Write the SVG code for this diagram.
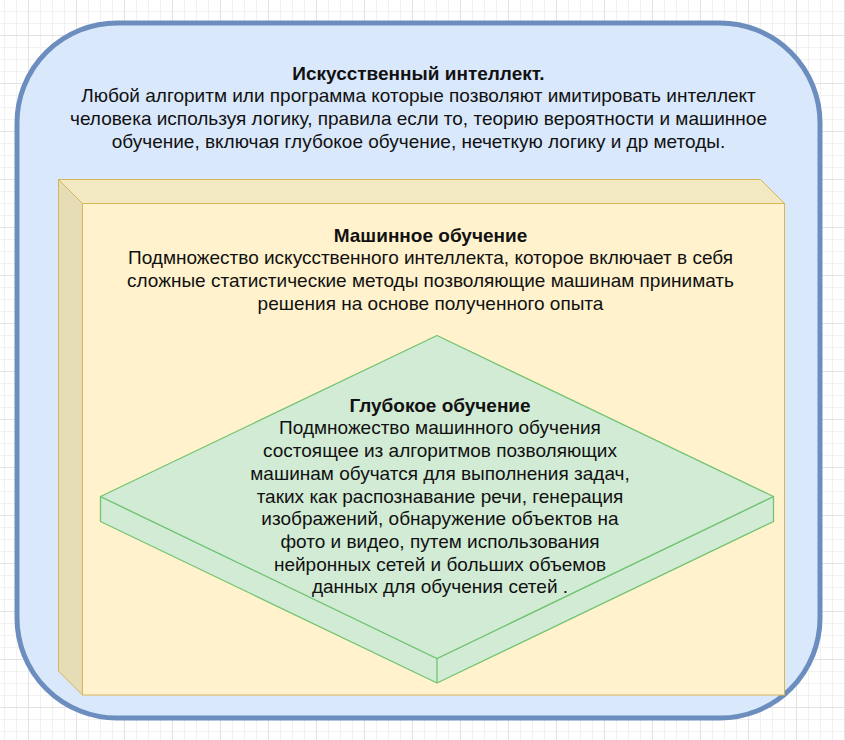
<svg xmlns="http://www.w3.org/2000/svg" width="845" height="740" viewBox="0 0 845 740">
  <defs>
    <pattern id="grid" patternUnits="userSpaceOnUse" x="28" y="35" width="48" height="48">
      <path d="M12.5 0V48M24.5 0V48M36.5 0V48M0 12.5H48M0 24.5H48M0 36.5H48" stroke="#f1f1f1" stroke-width="1" fill="none"/>
      <path d="M0.5 0V48M0 0.5H48" stroke="#e2e2e2" stroke-width="1" fill="none"/>
    </pattern>
    <style>
      text { font-family: "Liberation Sans", Arial, sans-serif; font-size: 19px; fill: #111; text-anchor: middle; }
      .b { font-weight: bold; }
      .cube { stroke: #d6b656; stroke-width: 1; }
      .dia { fill: #d1ebd5; stroke: #72c472; stroke-width: 1.3; stroke-linejoin: round; }
    </style>
  </defs>
  <rect x="0" y="0" width="845" height="740" fill="#ffffff"/>
  <rect x="0" y="0" width="845" height="740" fill="url(#grid)"/>

  <g id="ai">
    <rect x="17" y="23" width="803" height="695" rx="100" ry="100" fill="#dae8fc" stroke="#6c8ebf" stroke-width="5"/>
    <text x="418.5" y="79.5" class="b">Искусственный интеллект.</text>
    <text x="418.5" y="102.2">Любой алгоритм или программа которые позволяют имитировать интеллект</text>
    <text x="418.5" y="124.9">человека используя логику, правила если то, теорию вероятности и машинное</text>
    <text x="418.5" y="147.6">обучение, включая глубокое обучение, нечеткую логику и др методы.</text>
  </g>

  <g id="ml">
    <rect class="cube" x="82.5" y="203.5" width="702" height="491.5" fill="#fff2cc"/>
    <polygon class="cube" points="58.5,179.5 760.5,179.5 784.5,203.5 82.5,203.5" fill="#f2e8c2"/>
    <polygon class="cube" points="58.5,179.5 82.5,203.5 82.5,695 58.5,671" fill="#e6dcb6"/>
    <text x="430.5" y="241.5" class="b">Машинное обучение</text>
    <text x="430.5" y="264.2">Подмножество искусственного интеллекта, которое включает в себя</text>
    <text x="430.5" y="286.9">сложные статистические методы позволяющие машинам принимать</text>
    <text x="430.5" y="309.6">решения на основе полученного опыта</text>
  </g>

  <g id="dl">
    <polygon class="dia" points="100.5,496.5 437,658.5 773.5,496.5 773.5,521.5 437,683 100.5,521.5"/>
    <line class="dia" x1="437" y1="658.5" x2="437" y2="683"/>
    <polygon class="dia" points="437,335.5 773.5,496.5 437,658.5 100.5,496.5"/>
    <text x="440" y="411.7" class="b">Глубокое обучение</text>
    <text x="440" y="434.4">Подмножество машинного обучения</text>
    <text x="440" y="457.1">состоящее из алгоритмов позволяющих</text>
    <text x="440" y="479.8">машинам обучатся для выполнения задач,</text>
    <text x="440" y="502.5">таких как распознавание речи, генерация</text>
    <text x="440" y="525.2">изображений, обнаружение объектов на</text>
    <text x="440" y="547.9">фото и видео, путем использования</text>
    <text x="440" y="570.6">нейронных сетей и больших объемов</text>
    <text x="440" y="593.3">данных для обучения сетей .</text>
  </g>

  <g id="connectors"/>
</svg>
